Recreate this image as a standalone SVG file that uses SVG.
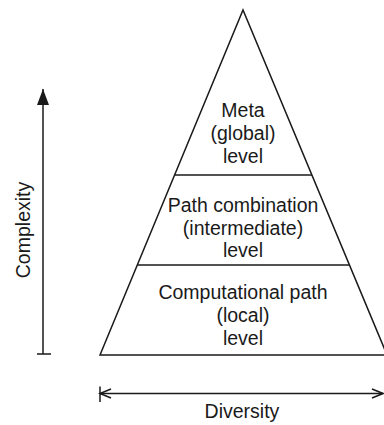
<svg xmlns="http://www.w3.org/2000/svg" width="384" height="425" viewBox="0 0 384 425">
<style>
.ln{stroke:#1a1a1a;stroke-width:1.5;fill:none}
.t{font-family:"Liberation Sans",Arial,sans-serif;font-size:19.5px;fill:#1a1a1a;text-anchor:middle}
</style>
<defs>
<marker id="fill" markerWidth="16" markerHeight="14" refX="16" refY="7" orient="auto" markerUnits="userSpaceOnUse">
<path d="M0,1 L16,7 L0,13 Z" fill="#1a1a1a"/>
</marker>
<marker id="open" markerWidth="14" markerHeight="12" refX="12" refY="6" orient="auto-start-reverse" markerUnits="userSpaceOnUse">
<path d="M1,1.5 L12,6 L1,10.5" fill="none" stroke="#1a1a1a" stroke-width="1.5"/>
</marker>
</defs>
<rect width="384" height="425" fill="#fff"/>
<g id="pyramid">
<path class="ln" d="M100,355 L243,10 L387,355 Z"/>
</g>
<g id="meta">
<line class="ln" x1="174.5" y1="175" x2="312" y2="175"/>
<text class="t" x="243" y="117">Meta</text>
<text class="t" x="243" y="140">(global)</text>
<text class="t" x="243" y="163">level</text>
</g>
<g id="pathcomb">
<line class="ln" x1="137" y1="265" x2="349.5" y2="265"/>
<text class="t" x="243" y="211.5">Path combination</text>
<text class="t" x="243" y="234.5">(intermediate)</text>
<text class="t" x="243" y="257">level</text>
</g>
<g id="comppath">
<text class="t" x="243" y="299">Computational path</text>
<text class="t" x="243" y="322">(local)</text>
<text class="t" x="243" y="344.5">level</text>
</g>
<g id="connectors">
<line class="ln" x1="43" y1="354" x2="43" y2="89" marker-end="url(#fill)"/>
<line class="ln" x1="37" y1="354" x2="51" y2="354"/>
<line class="ln" x1="100" y1="393.5" x2="383" y2="393.5" marker-start="url(#open)" marker-end="url(#open)"/>
<line class="ln" x1="100" y1="386.5" x2="100" y2="402"/>
</g>
<g id="labels">
<text class="t" transform="translate(30,230) rotate(-90)">Complexity</text>
<text class="t" x="242" y="418">Diversity</text>
</g>
</svg>
